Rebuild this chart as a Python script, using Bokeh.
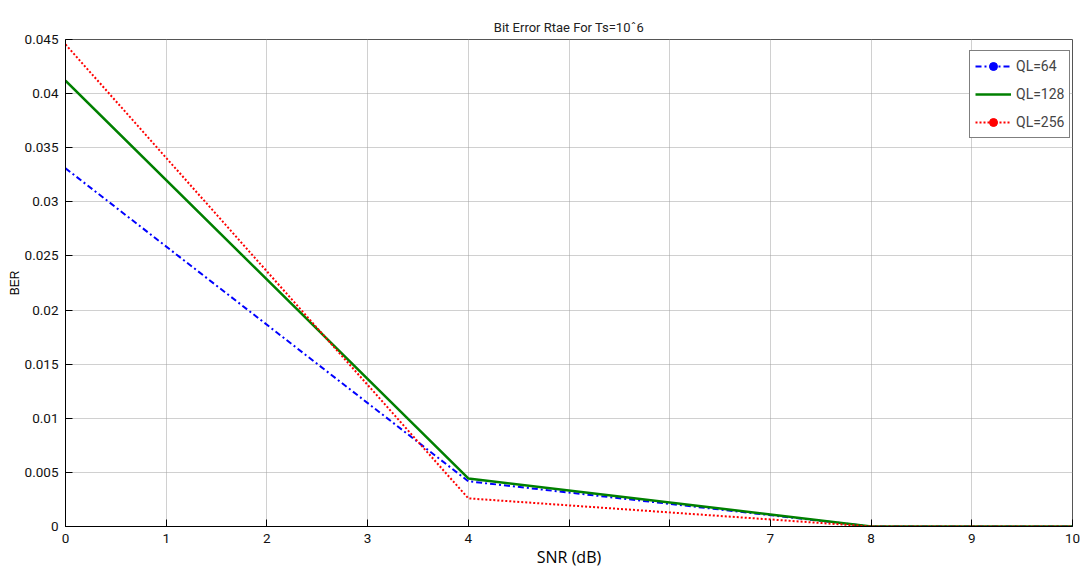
import numpy as np
from bokeh.plotting import figure
from bokeh.models import FixedTicker, Legend, LegendItem, ColumnDataSource
from bokeh.embed import file_html
from bokeh.resources import INLINE

snr = [0, 4, 8, 10]
ber_ql64 = [0.0331, 0.00418, 0.0, 0.0]
ber_ql128 = [0.0412, 0.00444, 0.0, 0.0]
ber_ql256 = [0.04455, 0.0026, 0.0, 0.0]
series_names = ["QL=64", "QL=128", "QL=256"]
x_ticks = [0, 1, 2, 3, 4, 5, 6, 7, 8, 9, 10]
x_tick_labels = ["0", "1", "2", "3", "4", "", "", "7", "8", "9", "10"]
y_ticks = [0, 0.005, 0.01, 0.015, 0.02, 0.025, 0.03, 0.035, 0.04, 0.045]
y_tick_labels = ["0", "0.005", "0.01", "0.015", "0.02", "0.025", "0.03", "0.035", "0.04", "0.045"]

NARROW = "Roboto"

p = figure(width=1088, height=571, x_range=(0, 10), y_range=(0, 0.045),
           output_backend="svg", toolbar_location=None,
           min_border_left=65, min_border_right=16, min_border_top=39, min_border_bottom=45,
           title="Bit Error Rtae For Ts=10ˆ6")
p.title.align = "center"
p.title.text_font = NARROW
p.title.text_font_size = "13px"
p.title.text_font_style = "normal"
p.title.text_color = "#222222"

p.outline_line_color = "#555555"
p.outline_line_width = 1

p.xaxis.ticker = FixedTicker(ticks=x_ticks)
p.yaxis.ticker = FixedTicker(ticks=y_ticks)
p.xaxis.major_label_overrides = {t: l for t, l in zip(x_ticks, x_tick_labels)}
p.yaxis.major_label_overrides = {t: l for t, l in zip(y_ticks, y_tick_labels)}
for ax in (p.xaxis, p.yaxis):
    ax.major_tick_in = 7
    ax.major_tick_out = 0
    ax.minor_tick_in = 0
    ax.minor_tick_out = 0
    ax.major_label_text_font = NARROW
    ax.major_label_text_font_size = "13.5px"
    ax.major_label_text_color = "#111111"
    ax.axis_line_color = "black"
    ax.major_tick_line_color = "black"
p.xaxis.ticker.minor_ticks = []
p.yaxis.ticker.minor_ticks = []

p.xaxis.axis_label = "SNR (dB)"
p.xaxis.axis_label_text_font = "Open Sans"
p.xaxis.axis_label_text_font_size = "16px"
p.xaxis.axis_label_text_font_style = "normal"
p.xaxis.axis_label_text_color = "black"
p.xaxis.axis_label_standoff = 0
p.xaxis.major_label_standoff = 7

p.yaxis.axis_label = "BER"
p.yaxis.axis_label_text_font = "Liberation Sans"
p.yaxis.axis_label_text_font_size = "12px"
p.yaxis.axis_label_text_font_style = "normal"
p.yaxis.axis_label_text_color = "black"
p.yaxis.axis_label_standoff = 0
p.yaxis.major_label_standoff = 7

p.grid.grid_line_color = "#a0a0a0"
p.grid.grid_line_dash = "1 1"
p.grid.grid_line_width = 1

l1 = p.line(snr, ber_ql64, line_color="blue", line_width=2, line_dash="6 3 2 3")
l2 = p.line(snr, ber_ql128, line_color="green", line_width=2.5)
l3 = p.line(snr, ber_ql256, line_color="red", line_width=2, line_dash="2 2")

nan_src = ColumnDataSource(data=dict(x=[np.nan], y=[np.nan]))
m1 = p.scatter("x", "y", source=nan_src, size=5, color="blue")
m3 = p.scatter("x", "y", source=nan_src, size=5, color="red")

legend = Legend(items=[
    LegendItem(label=series_names[0], renderers=[l1, m1]),
    LegendItem(label=series_names[1], renderers=[l2]),
    LegendItem(label=series_names[2], renderers=[l3, m3]),
], location=(904, 388))
legend.label_text_font = NARROW
legend.label_text_font_size = "14px"
legend.border_line_color = "black"
legend.border_line_width = 1.5
legend.glyph_width = 36
legend.label_standoff = 5
legend.padding = 5
legend.spacing = 8
legend.label_height = 20
legend.glyph_height = 20
legend.background_fill_alpha = 1
p.add_layout(legend, "center")

open("out.html", "w").write(file_html(p, INLINE))
